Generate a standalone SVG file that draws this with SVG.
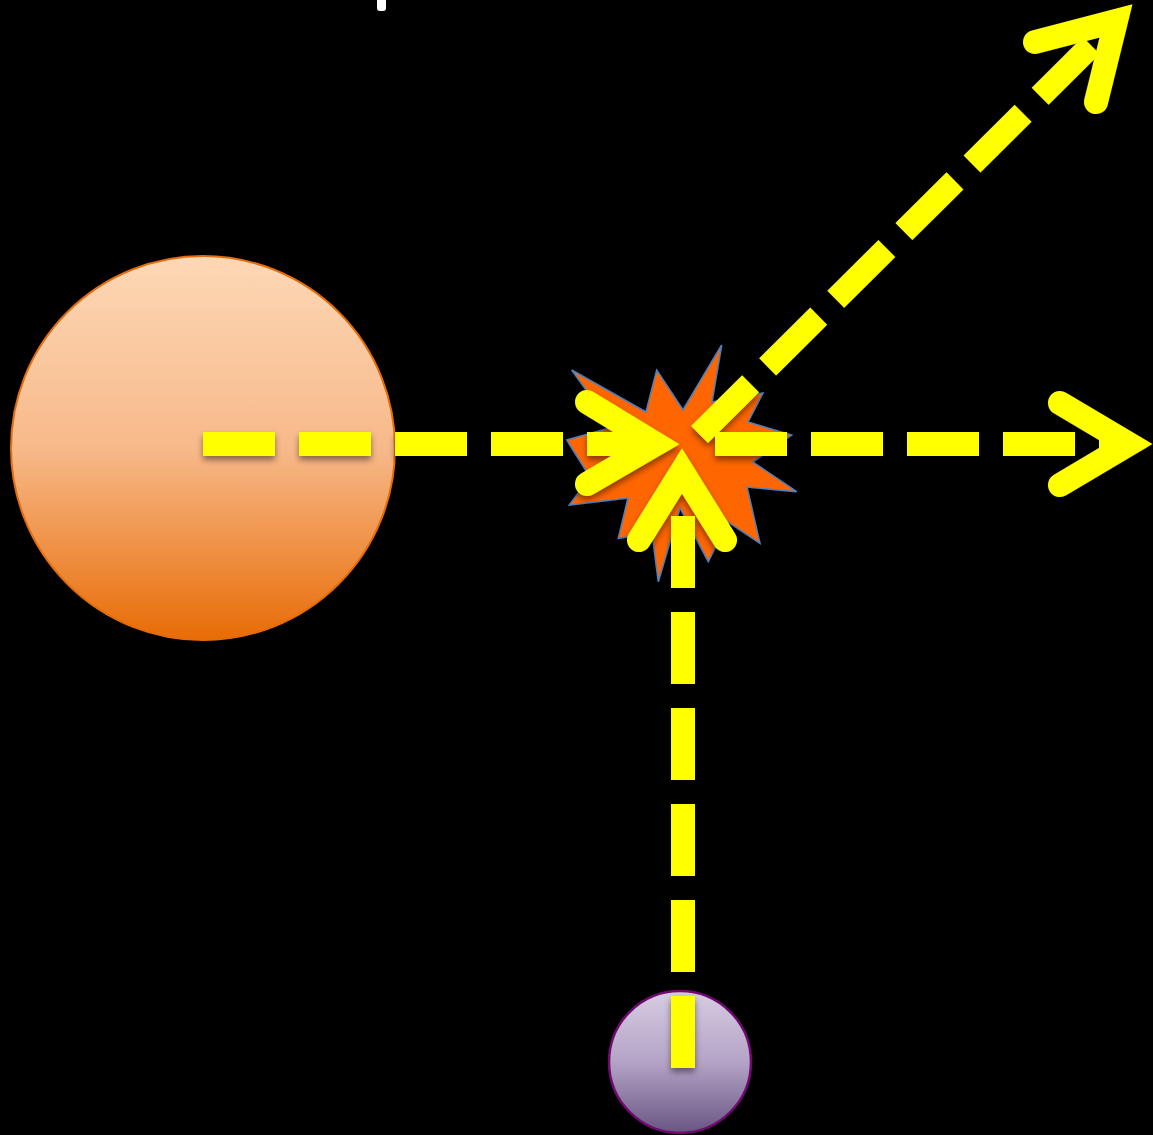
<svg xmlns="http://www.w3.org/2000/svg" width="1153" height="1135" viewBox="0 0 1153 1135">
  <defs>
    <linearGradient id="gOrange" x1="0" y1="0" x2="0" y2="1">
      <stop offset="0" stop-color="#FDD8B6"/>
      <stop offset="0.5" stop-color="#F7B98A"/>
      <stop offset="1" stop-color="#E86C06"/>
    </linearGradient>
    <linearGradient id="gPurple" x1="0" y1="0" x2="0" y2="1">
      <stop offset="0" stop-color="#D6CCE2"/>
      <stop offset="0.5" stop-color="#B4A3C6"/>
      <stop offset="1" stop-color="#685583"/>
    </linearGradient>
    <filter id="shadow" x="-20%" y="-20%" width="140%" height="140%">
      <feDropShadow dx="0" dy="4" stdDeviation="3" flood-color="#000" flood-opacity="0.45"/>
    </filter>
  </defs>
  <style>
    .dash { fill: none; stroke: #FFFF00; stroke-width: 24; stroke-dasharray: 72 24; stroke-linecap: butt; }
    .head { fill: none; stroke: #FFFF00; stroke-width: 24; stroke-linecap: round; stroke-linejoin: miter; stroke-miterlimit: 10; }
  </style>
  <rect x="0" y="0" width="1153" height="1135" fill="#000"/>

  <g id="mark">
    <rect x="377" y="-6" width="9" height="17" rx="3" fill="#FFFFFF"/>
  </g>

  <g id="big-circle">
    <circle cx="203" cy="448" r="192" fill="url(#gOrange)" stroke="#E46C0A" stroke-width="2"/>
  </g>

  <g id="small-circle">
    <circle cx="680" cy="1062" r="71" fill="url(#gPurple)" stroke="#700A6E" stroke-width="2.5"/>
  </g>

  <g id="star" filter="url(#shadow)">
    <polygon points="721.7,345 712,402 763,393 748,422 791.7,435 753,462 796.7,491.7 747,487 760,543.3 728,522 708.3,561.7 680,508 658.3,581.7 652,533 618.3,538.3 628,498 569.3,505 590,477 566.7,440 613,427 571.7,370 646,412 656.7,370 683,410" fill="#FF6600" stroke="#4F81BD" stroke-width="1.5" stroke-linejoin="miter"/>
  </g>

  <g id="connectors" filter="url(#shadow)">
    <g id="c-left">
      <path class="dash" d="M203,444 H656"/>
      <path class="head" d="M587,402 L656,444 L587,484"/>
    </g>
    <g id="c-bottom">
      <path class="dash" d="M683,1068 V471"/>
      <path class="head" d="M639,540 L682,471 L725,540"/>
    </g>
    <g id="c-right">
      <path class="dash" d="M715,444 H1129"/>
      <path class="head" d="M1060,403 L1129,444 L1060,485"/>
    </g>
    <g id="c-diag">
      <path class="dash" d="M699.5,434.5 L1116,21"/>
      <path class="head" d="M1035,42 L1116,21 L1096,102"/>
    </g>
  </g>
</svg>
